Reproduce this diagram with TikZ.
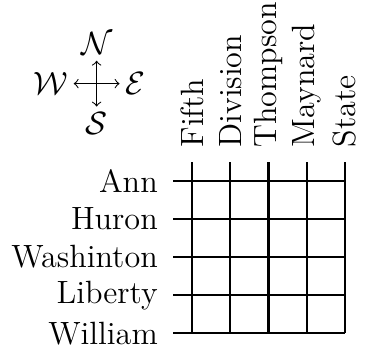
\documentclass[tikz,border=0pt,12pt]{standalone}
\usepackage{amsmath, amssymb}
\usepackage{tikz}
\usetikzlibrary{calc, positioning}

\tikzset{
  street/.style={thick},
  streetname/.style={inner sep=3.33pt},
  heading/.style={inner sep=2pt},
}

\begin{document}
\begin{tikzpicture}[x=0.5cm, y=0.5cm]
  \useasboundingbox (-5.03,-0.41) rectangle (4.58,8.73);

  % Compass
  \coordinate (compass) at (-2.5,6.54);
  \coordinate (nTip) at ($(compass)+(0,0.6)$);
  \coordinate (sTip) at ($(compass)+(0,-0.6)$);
  \coordinate (wTip) at ($(compass)+(-0.6,0)$);
  \coordinate (eTip) at ($(compass)+(0.6,0)$);
  \draw[<->] (wTip) -- (eTip);
  \draw[<->] (sTip) -- (nTip);
  \node[heading, above] (north) at (nTip) {$\mathcal{N}$};
  \node[heading, below] (south) at (sTip) {$\mathcal{S}$};
  \node[heading, left]  (west)  at (wTip) {$\mathcal{W}$};
  \node[heading, right] (east)  at (eTip) {$\mathcal{E}$};

  % North-south streets
  \foreach \name [count=\i from 0] in {Fifth,Division,Thompson,Maynard,State} {
    \draw[street] (\i,0) -- (\i,4.5);
    \node[streetname, rotate=90, anchor=west] (ns\i) at (\i,4.62) {\name};
  }

  % East-west streets
  \foreach \name [count=\j from 0] in {William,Liberty,Washinton,Huron,Ann} {
    \draw[street] (-0.5,\j) -- (4,\j);
    \node[streetname, anchor=east] (ew\j) at (-0.65,\j) {\name};
  }
\end{tikzpicture}
\end{document}
